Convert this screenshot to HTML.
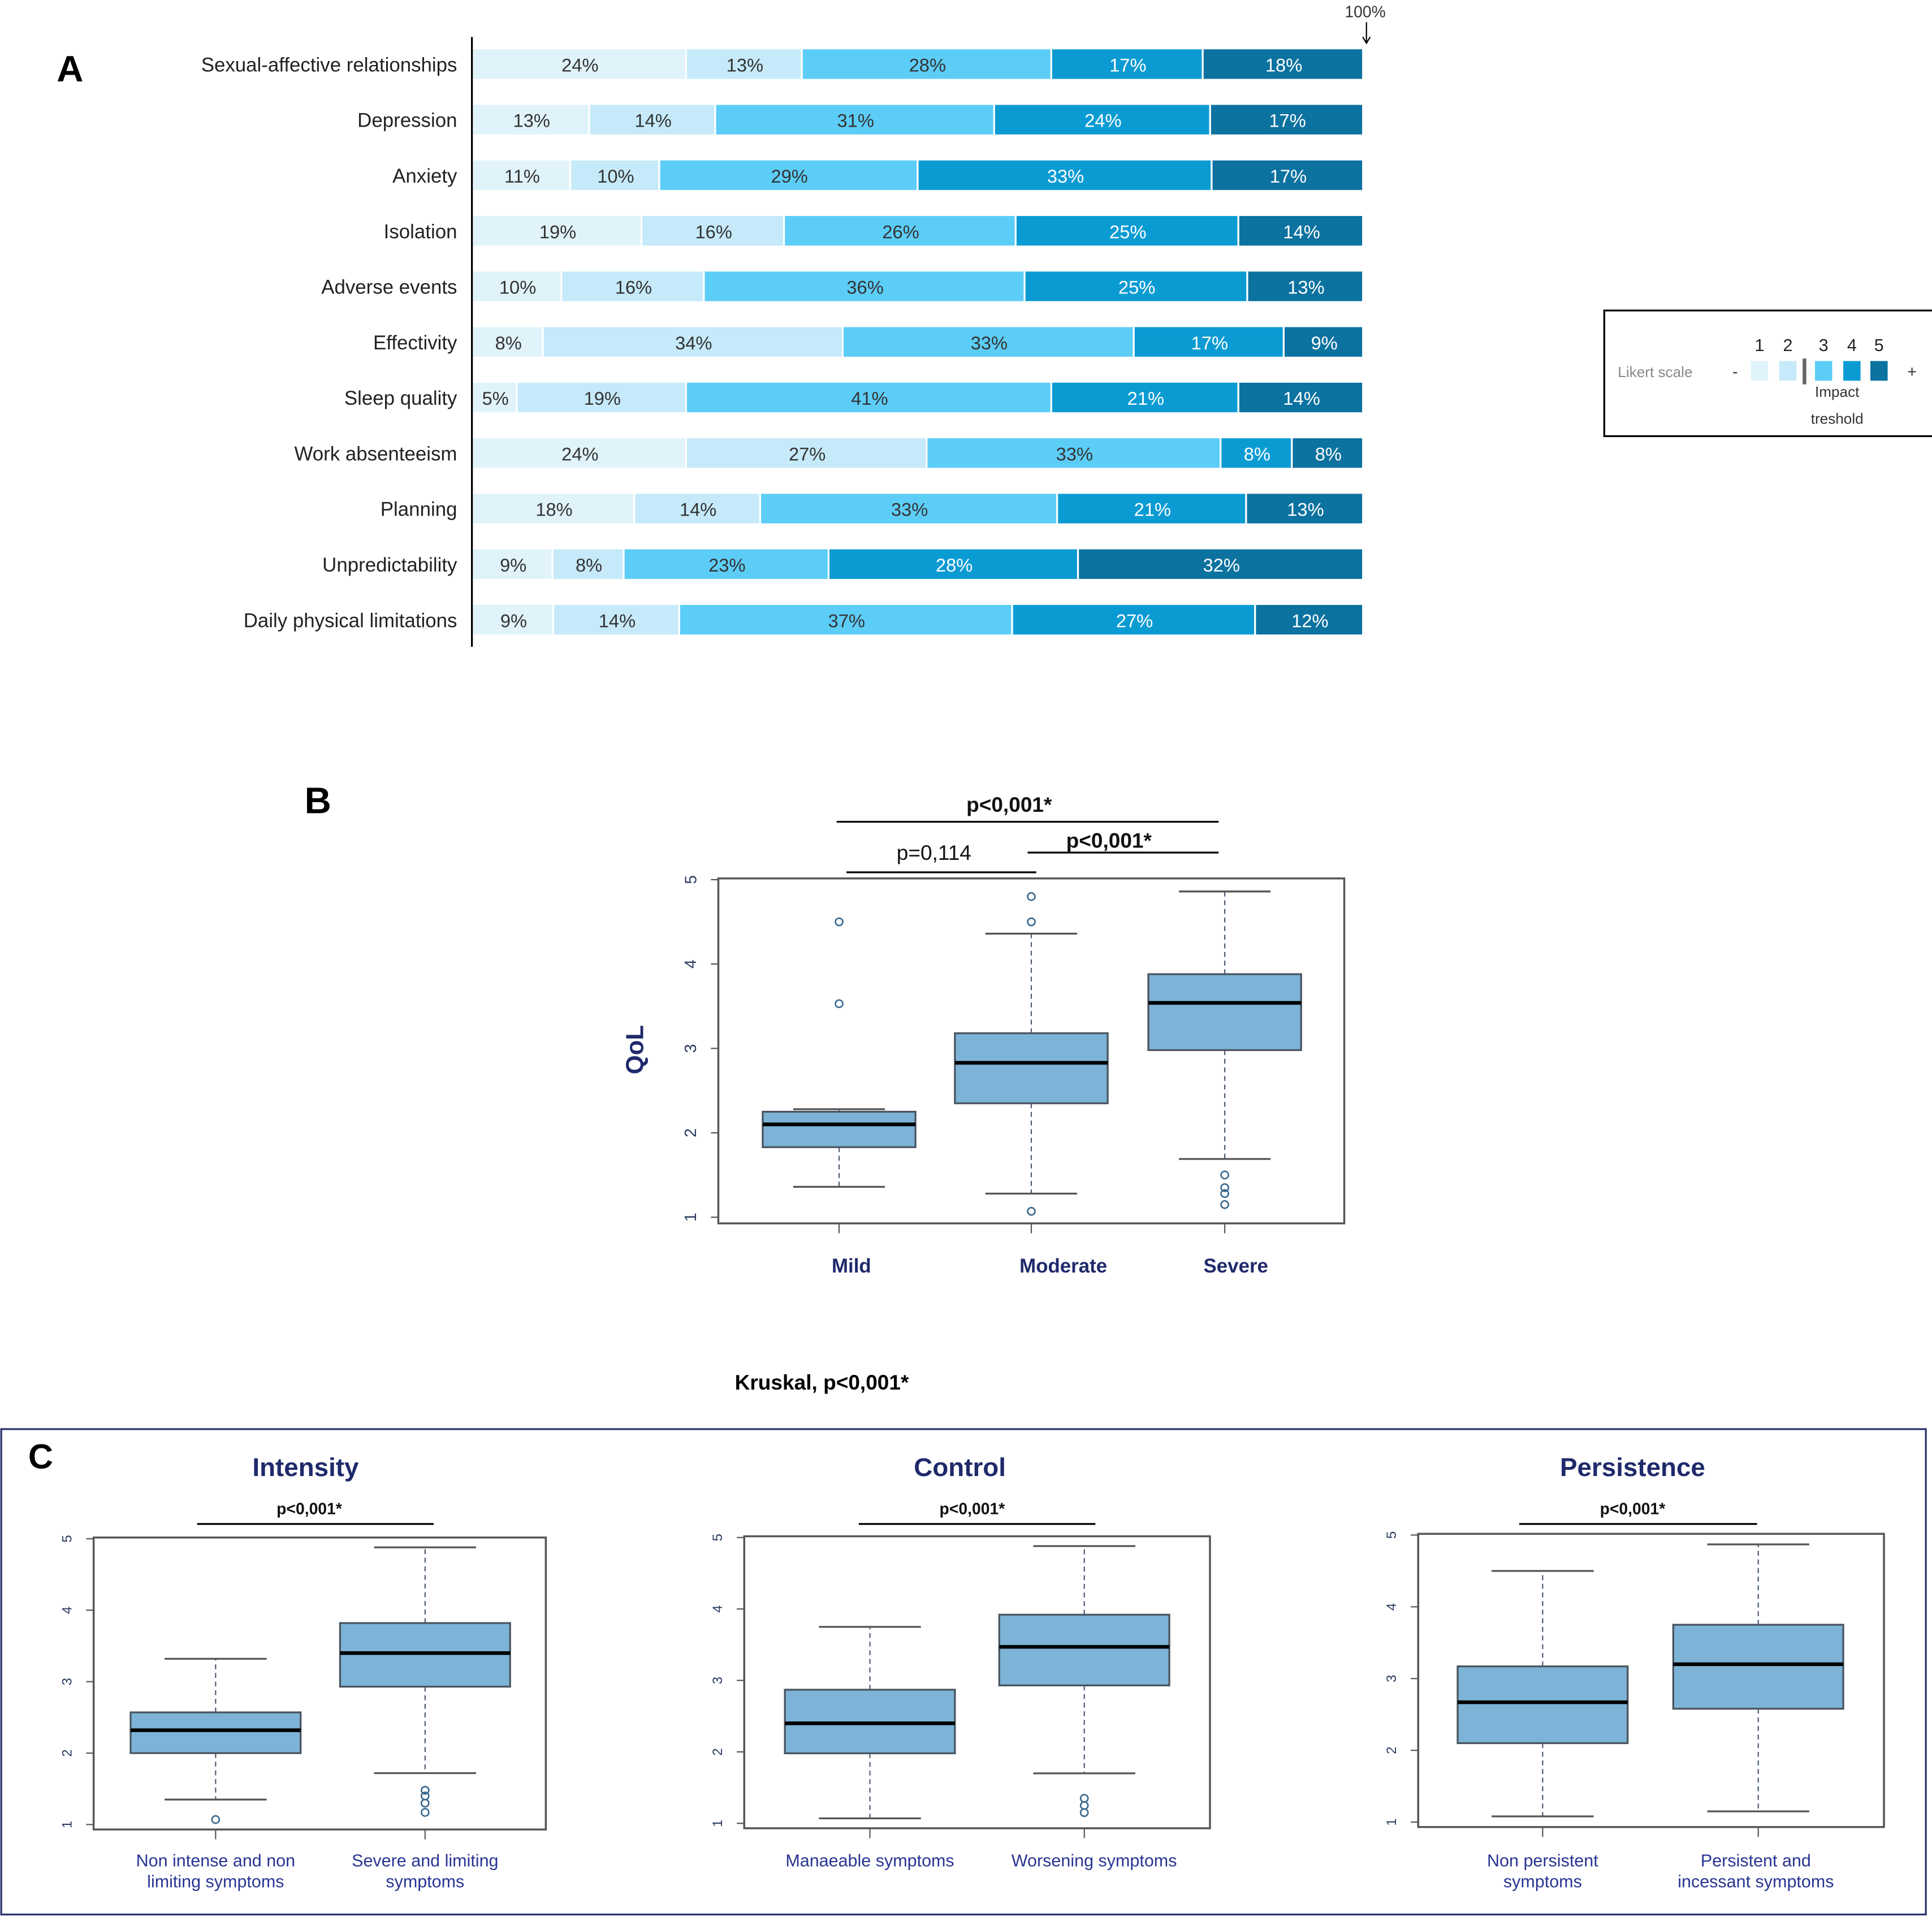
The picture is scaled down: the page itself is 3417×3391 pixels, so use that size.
<!DOCTYPE html>
<html><head><meta charset="utf-8"><style>html,body{margin:0;padding:0;background:#fff}svg{display:block}text{font-family:"Liberation Sans",sans-serif}</style></head>
<body>
<svg id="s" width="3417" height="3391" viewBox="0 0 1568 1556" xmlns="http://www.w3.org/2000/svg">
<rect width="1568" height="1556" fill="#fff"/>
<text x="46" y="66" font-size="30" font-weight="bold">A</text>
<line x1="383" y1="30" x2="383" y2="525" stroke="#000" stroke-width="1.5"/>
<text x="1108" y="14" font-size="13" text-anchor="middle" fill="#333">100%</text>
<path d="M1109 18 V34 M1106 30 L1109 35 L1112 30" stroke="#000" fill="none"/>
<g id="gA"></g>
<g>
<rect x="1302" y="252" width="280" height="102" fill="#fff" stroke="#000" stroke-width="1.5"/>
<text x="1313" y="306" font-size="12" fill="#888">Likert scale</text>
<text x="1406" y="306" font-size="13" fill="#333">-</text>
<text x="1548" y="306" font-size="13" fill="#333">+</text>
<g id="legsq"></g>
<rect x="1463" y="291" width="3" height="21" fill="#666"/>
<text x="1491" y="322" font-size="12" text-anchor="middle" fill="#333">Impact</text>
<text x="1491" y="344" font-size="12" text-anchor="middle" fill="#333">treshold</text>
</g>
<text x="258" y="660" font-size="30" font-weight="bold" text-anchor="middle">B</text>
<g id="gB"></g>
<text x="667" y="1128" font-size="17" font-weight="bold" text-anchor="middle">Kruskal, p&lt;0,001*</text>
<rect x="1" y="1160" width="1562" height="394" fill="none" stroke="#2a3570" stroke-width="1.5"/>
<text x="33" y="1192" font-size="28" font-weight="bold" text-anchor="middle">C</text>
<g id="gC"></g>
</svg>
<script>
const NS="http://www.w3.org/2000/svg";
function el(p,t,a){const e=document.createElementNS(NS,t);for(const k in a)e.setAttribute(k,a[k]);p.appendChild(e);return e;}
const likertCategories=["Sexual-affective relationships","Depression","Anxiety","Isolation","Adverse events","Effectivity","Sleep quality","Work absenteeism","Planning","Unpredictability","Daily physical limitations"];
const level1=[24,13,11,19,10,8,5,24,18,9,9];
const level2=[13,14,10,16,16,34,19,27,14,8,14];
const level3=[28,31,29,26,36,33,41,33,33,23,37];
const level4=[17,24,33,25,25,17,21,8,21,28,27];
const level5=[18,17,17,14,13,9,14,8,13,32,12];
const colors=["#e0f3fb","#c6eaf9","#5ccdf7","#0b9bd3","#0c72a0"];
const txtCol=["#333","#333","#333","#fff","#fff"];
const gA=document.getElementById('gA');
const ax0=384,ax1=1107,ay0=52,aStep=45.1,bh=24;
likertCategories.forEach((c,i)=>{
  const y=ay0+i*aStep;
  const t=el(gA,'text',{x:371,y:y+6,'font-size':16,'text-anchor':'end',fill:'#222'});t.textContent=c;
  
  
  const vals=[level1[i],level2[i],level3[i],level4[i],level5[i]];
  const tot=vals.reduce((a,b)=>a+b,0);
  let x=ax0;
  vals.forEach((v,k)=>{
    const w=v/tot*(ax1-ax0);
    const r=el(gA,'rect',{x:x,y:y-bh/2,width:w-1.5,height:bh,fill:colors[k]});
    
    
    const tt=el(gA,'text',{x:x+w/2,y:y+6,'font-size':15,'text-anchor':'middle',fill:txtCol[k]});tt.textContent=v+'%';
    
    
    x+=w;
  });
});
const ls=document.getElementById('legsq');
[1421,1444,1473,1496,1518].forEach((x,k)=>{
  const r=el(ls,'rect',{x:x,y:293,width:14,height:16,fill:colors[k]});
  
  
  const t=el(ls,'text',{x:x+7,y:285,'font-size':14,'text-anchor':'middle',fill:'#222'});t.textContent=String(k+1);
  
  
});

// box plot data
const bCats=["Mild","Moderate","Severe"];
const bQ1=[1.83,2.35,2.98],bMed=[2.1,2.83,3.54],bQ3=[2.25,3.18,3.88],bLo=[1.36,1.28,1.69],bHi=[2.28,4.36,4.86];
const bOut=[[4.5,3.53],[4.8,4.5,1.07],[1.5,1.35,1.28,1.15]];
const c1Cats=["Non intense and non|limiting symptoms","Severe and limiting|symptoms"];
const c1Q1=[2.0,2.93],c1Med=[2.32,3.4],c1Q3=[2.57,3.82],c1Lo=[1.35,1.72],c1Hi=[3.32,4.88],c1Out=[[1.07],[1.48,1.4,1.3,1.17]];
const c2Cats=["Manaeable symptoms","Worsening symptoms"];
const c2Q1=[1.98,2.93],c2Med=[2.4,3.47],c2Q3=[2.87,3.92],c2Lo=[1.07,1.7],c2Hi=[3.75,4.88],c2Out=[[],[1.35,1.25,1.15]];
const c3Cats=["Non persistent|symptoms","Persistent and|incessant symptoms"];
const c3Q1=[2.1,2.58],c3Med=[2.67,3.2],c3Q3=[3.17,3.75],c3Lo=[1.08,1.15],c3Hi=[4.5,4.87],c3Out=[[],[]];
const yTicks=[1,2,3,4,5];

function boxplot(g,o){
  const {bx0,bx1,by0,by1,yTop,yBot,xs,hw,cats,q1,med,q3,lo,hi,out,fs,catCol,catY,bold,tfs}=o;
  const Y=v=>yBot-(v-1)*(yBot-yTop)/4;
  const f=el(g,'rect',{x:bx0,y:by0,width:bx1-bx0,height:by1-by0,fill:'none',stroke:'#555','stroke-width':1.6});
  
  
  yTicks.forEach(v=>{
    el(g,'line',{x1:bx0-6,x2:bx0,y1:Y(v),y2:Y(v),stroke:'#555'});
    const t=el(g,'text',{x:bx0-22,y:Y(v),'font-size':tfs,'text-anchor':'middle',fill:'#2a3a60',transform:`rotate(-90 ${bx0-22} ${Y(v)})`,dy:4});t.textContent=v;
    
    
  });
  cats.forEach((c,i)=>{
    const x=xs[i];
    el(g,'line',{x1:x,x2:x,y1:by1,y2:by1+8,stroke:'#555'});
    el(g,'line',{x1:x,x2:x,y1:Y(q3[i]),y2:Y(hi[i]),stroke:'#4a5a70','stroke-dasharray':'4 3'});
    el(g,'line',{x1:x,x2:x,y1:Y(q1[i]),y2:Y(lo[i]),stroke:'#4a5a70','stroke-dasharray':'4 3'});
    el(g,'line',{x1:x-hw*0.6,x2:x+hw*0.6,y1:Y(hi[i]),y2:Y(hi[i]),stroke:'#555','stroke-width':1.5});
    el(g,'line',{x1:x-hw*0.6,x2:x+hw*0.6,y1:Y(lo[i]),y2:Y(lo[i]),stroke:'#555','stroke-width':1.5});
    const b=el(g,'rect',{x:x-hw,y:Y(q3[i]),width:2*hw,height:Y(q1[i])-Y(q3[i]),fill:'#7db3d6',stroke:'#4a5560','stroke-width':1.5});
    
    
    el(g,'line',{x1:x-hw,x2:x+hw,y1:Y(med[i]),y2:Y(med[i]),stroke:'#000','stroke-width':3});
    out[i].forEach(v=>{
      const p=el(g,'circle',{cx:x,cy:Y(v),r:3,fill:'none',stroke:'#3a6a90','stroke-width':1.2});
      
      
    });
    const lines=c.split('|');
    lines.forEach((ln,j)=>{
      const t=el(g,'text',{x:(o.labelX?o.labelX[i]:x),y:catY+j*17,'font-size':fs,'text-anchor':'middle',fill:catCol,'font-weight':bold?'bold':'normal'});t.textContent=ln;
      
      
    });
  });
}
function bracket(g,x1,x2,y,label,tx,ty,fs,bold){
  el(g,'line',{x1:x1,x2:x2,y1:y,y2:y,stroke:'#000','stroke-width':1.5});
  const t=el(g,'text',{x:tx,y:ty,'font-size':fs,'text-anchor':'middle','font-weight':bold?'bold':'normal',fill:'#111'});t.textContent=label;
  
  
}
const gB=document.getElementById('gB');
boxplot(gB,{bx0:583,bx1:1091,by0:713,by1:993,yTop:714,yBot:988,xs:[681,837,994],labelX:[691,863,1003],hw:62,cats:bCats,q1:bQ1,med:bMed,q3:bQ3,lo:bLo,hi:bHi,out:bOut,fs:16,catCol:'#1f2a6b',catY:1033,bold:true,tfs:13});
const q=el(gB,'text',{x:522,y:852,'font-size':20,'font-weight':'bold','text-anchor':'middle',fill:'#1f2a6b',transform:'rotate(-90 522 852)'});q.textContent='QoL';


bracket(gB,679,989,667,'p<0,001*',819,659,17,true);
bracket(gB,687,841,708,'p=0,114',758,698,17,false);
bracket(gB,834,989,692,'p<0,001*',900,688,17,true);

const gC=document.getElementById('gC');
const subs=[
 {bx0:76,bx1:443,by0:1248,by1:1485,yTop:1249,yBot:1481,xs:[175,345],cats:c1Cats,q1:c1Q1,med:c1Med,q3:c1Q3,lo:c1Lo,hi:c1Hi,out:c1Out,title:'Intensity',tx:248,br:[160,352,251]},
 {bx0:604,bx1:982,by0:1247,by1:1484,yTop:1248,yBot:1480,xs:[706,880],labelX:[706,888],cats:c2Cats,q1:c2Q1,med:c2Med,q3:c2Q3,lo:c2Lo,hi:c2Hi,out:c2Out,title:'Control',tx:779,br:[697,889,789]},
 {bx0:1151,bx1:1529,by0:1245,by1:1483,yTop:1246,yBot:1479,xs:[1252,1427],labelX:[1252,1425],cats:c3Cats,q1:c3Q1,med:c3Med,q3:c3Q3,lo:c3Lo,hi:c3Hi,out:c3Out,title:'Persistence',tx:1325,br:[1233,1426,1325]}
];
subs.forEach(s=>{
  const g=el(gC,'g',{});
  
  
  boxplot(g,Object.assign({hw:69,fs:14,catCol:'#283593',catY:1515,bold:false,tfs:11},s));
  const t=el(g,'text',{x:s.tx,y:1198,'font-size':21,'font-weight':'bold','text-anchor':'middle',fill:'#1f2a6b'});t.textContent=s.title;
  
  
  bracket(g,s.br[0],s.br[1],1237,'p<0,001*',s.br[2],1229,13,true);
});
</script>
</body></html>
